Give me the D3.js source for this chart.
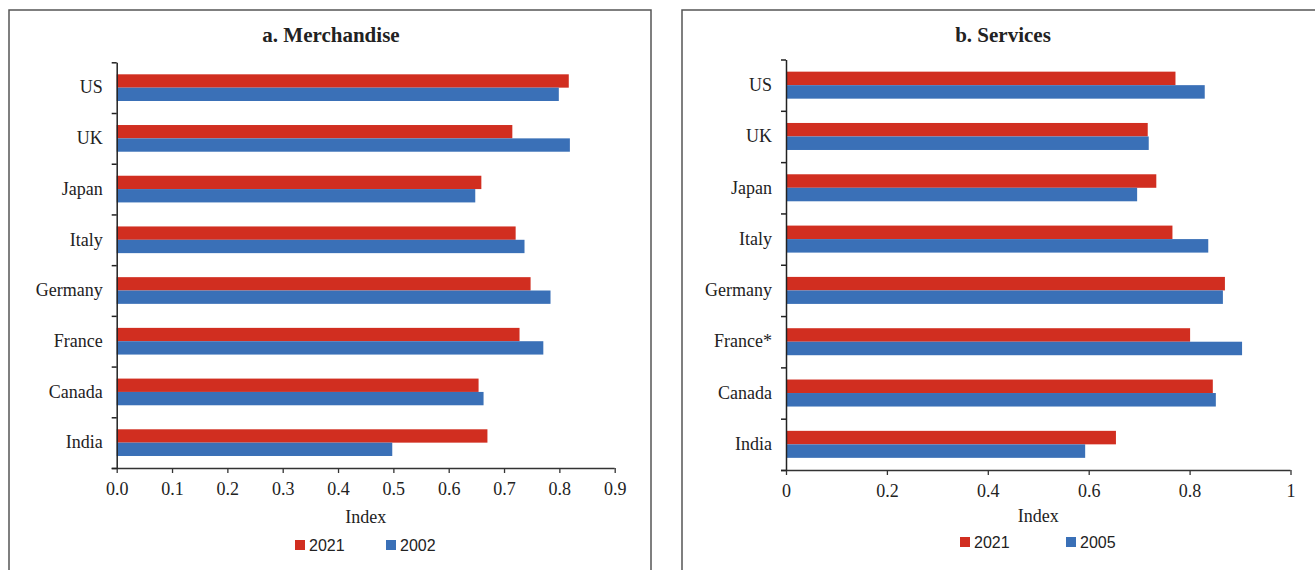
<!DOCTYPE html>
<html>
<head>
<meta charset="utf-8">
<script src="https://cdn.jsdelivr.net/npm/d3@7"></script>
<style>
  html, body { margin: 0; padding: 0; background: #fff; }
  svg { display: block; }
  .cat text, .xax text { font-family: "Liberation Serif", serif; font-size: 18px; fill: #222; }
  .title { font-family: "Liberation Serif", serif; font-weight: bold; font-size: 21px; fill: #222; }
  .axlabel { font-family: "Liberation Serif", serif; font-size: 18px; fill: #222; }
  .legend text { font-family: "Liberation Sans", Arial, sans-serif; font-size: 16px; fill: #222; }
</style>
</head>
<body>
<svg id="chart" width="1315" height="570"></svg>
<script>
// Categories, top to bottom
const merchCategories = ["US", "UK", "Japan", "Italy", "Germany", "France", "Canada", "India"];
const servCategories  = ["US", "UK", "Japan", "Italy", "Germany", "France*", "Canada", "India"];

// Merchandise index values
const merch2021 = [0.817, 0.715, 0.659, 0.721, 0.748, 0.728, 0.654, 0.670];
const merch2002 = [0.799, 0.819, 0.648, 0.737, 0.784, 0.771, 0.663, 0.498];

// Services index values
const serv2021 = [0.772, 0.717, 0.734, 0.766, 0.870, 0.801, 0.846, 0.654];
const serv2005 = [0.830, 0.719, 0.696, 0.837, 0.866, 0.904, 0.852, 0.593];

// Axis tick values and labels
const merchTicks = [0, 0.1, 0.2, 0.3, 0.4, 0.5, 0.6, 0.7, 0.8, 0.9];
const merchTickLabels = ["0.0", "0.1", "0.2", "0.3", "0.4", "0.5", "0.6", "0.7", "0.8", "0.9"];
const servTicks = [0, 0.2, 0.4, 0.6, 0.8, 1];
const servTickLabels = ["0", "0.2", "0.4", "0.6", "0.8", "1"];

const seriesColors = { recent: "#d12e20", base: "#3a70b7" };

const svg = d3.select("#chart");

function panel(cfg) {
  const g = svg.append("g");

  // frame
  g.append("rect")
    .attr("x", cfg.frame[0]).attr("y", cfg.frame[1])
    .attr("width", cfg.frame[2]).attr("height", cfg.frame[3])
    .attr("fill", "none").attr("stroke", "#555").attr("stroke-width", 1.5);

  g.append("text").attr("class", "title")
    .attr("x", cfg.titleX).attr("y", cfg.titleY)
    .attr("text-anchor", "middle").text(cfg.title);

  const x = d3.scaleLinear().domain(cfg.xDomain).range(cfg.xRange);
  const y = d3.scaleBand().domain(cfg.categories).range(cfg.yRange).padding(0);
  const keys = ["recent", "base"];
  const ySub = d3.scaleBand().domain(keys).range([0, y.bandwidth()])
    .paddingInner(0).paddingOuter(0.9);

  const rows = cfg.categories.map((c, i) => ({
    cat: c,
    recent: cfg.recent[i],
    base: cfg.base[i]
  }));

  // bars
  const grp = g.append("g").selectAll("g").data(rows).join("g")
    .attr("transform", d => `translate(0,${y(d.cat)})`);
  grp.selectAll("rect").data(d => keys.map(k => ({ key: k, value: d[k] }))).join("rect")
    .attr("x", x(0))
    .attr("y", d => ySub(d.key))
    .attr("width", d => x(d.value) - x(0))
    .attr("height", ySub.bandwidth())
    .attr("fill", d => seriesColors[d.key]);

  // x axis
  const xAxis = d3.axisBottom(x)
    .tickValues(cfg.ticks)
    .tickFormat((d, i) => cfg.tickLabels[i])
    .tickSize(5).tickSizeOuter(0).tickPadding(9);
  const xg = g.append("g").attr("class", "xax")
    .attr("transform", `translate(0,${cfg.yRange[1]})`).call(xAxis);
  xg.select(".domain").attr("stroke", "#333").attr("stroke-width", 1.3)
    .attr("d", `M${cfg.xRange[0] - 5},0.5H${cfg.xRange[1]}`);
  xg.selectAll(".tick line").attr("stroke", "#333").attr("stroke-width", 1.3);

  // category axis: boundary ticks
  const yEdge = d3.scaleLinear().domain([0, cfg.categories.length]).range(cfg.yRange);
  const yAxis = d3.axisLeft(yEdge).ticks(cfg.categories.length)
    .tickFormat("").tickSize(5).tickSizeOuter(0);
  const yg = g.append("g").attr("transform", `translate(${cfg.xRange[0]},0)`).call(yAxis);
  yg.select(".domain").attr("stroke", "#222").attr("stroke-width", 1.5);
  yg.selectAll(".tick line").attr("stroke", "#222").attr("stroke-width", 1.5);

  // category labels
  const lg = g.append("g").attr("class", "cat")
    .attr("transform", `translate(${cfg.xRange[0]},0)`)
    .call(d3.axisLeft(y).tickSize(0).tickPadding(cfg.labelPad));
  lg.select(".domain").remove();

  // axis title
  g.append("text").attr("class", "axlabel")
    .attr("x", (cfg.xRange[0] + cfg.xRange[1]) / 2).attr("y", cfg.axisTitleY)
    .attr("text-anchor", "middle").text("Index");

  // legend
  const leg = g.append("g").attr("class", "legend");
  cfg.legend.forEach(item => {
    leg.append("rect").attr("x", item.x).attr("y", cfg.legendY - 5)
      .attr("width", 10).attr("height", 10).attr("fill", seriesColors[item.key]);
    leg.append("text").attr("x", item.x + 14).attr("y", cfg.legendY + 6).text(item.label);
  });
}

panel({
  frame: [9, 10, 642, 580],
  title: "a. Merchandise", titleX: 331, titleY: 42,
  categories: merchCategories, recent: merch2021, base: merch2002,
  xDomain: [0, 0.9], xRange: [116.7, 614.7], yRange: [62.3, 468],
  ticks: merchTicks, tickLabels: merchTickLabels,
  labelPad: 14, axisTitleY: 523,
  legendY: 545,
  legend: [{ key: "recent", label: "2021", x: 295 }, { key: "base", label: "2002", x: 386 }]
});

panel({
  frame: [682, 10, 660, 580],
  title: "b. Services", titleX: 1003, titleY: 42,
  categories: servCategories, recent: serv2021, base: serv2005,
  xDomain: [0, 1], xRange: [786, 1290.5], yRange: [59.5, 470],
  ticks: servTicks, tickLabels: servTickLabels,
  labelPad: 14, axisTitleY: 522,
  legendY: 542,
  legend: [{ key: "recent", label: "2021", x: 960 }, { key: "base", label: "2005", x: 1066 }]
});
</script>
</body>
</html>
